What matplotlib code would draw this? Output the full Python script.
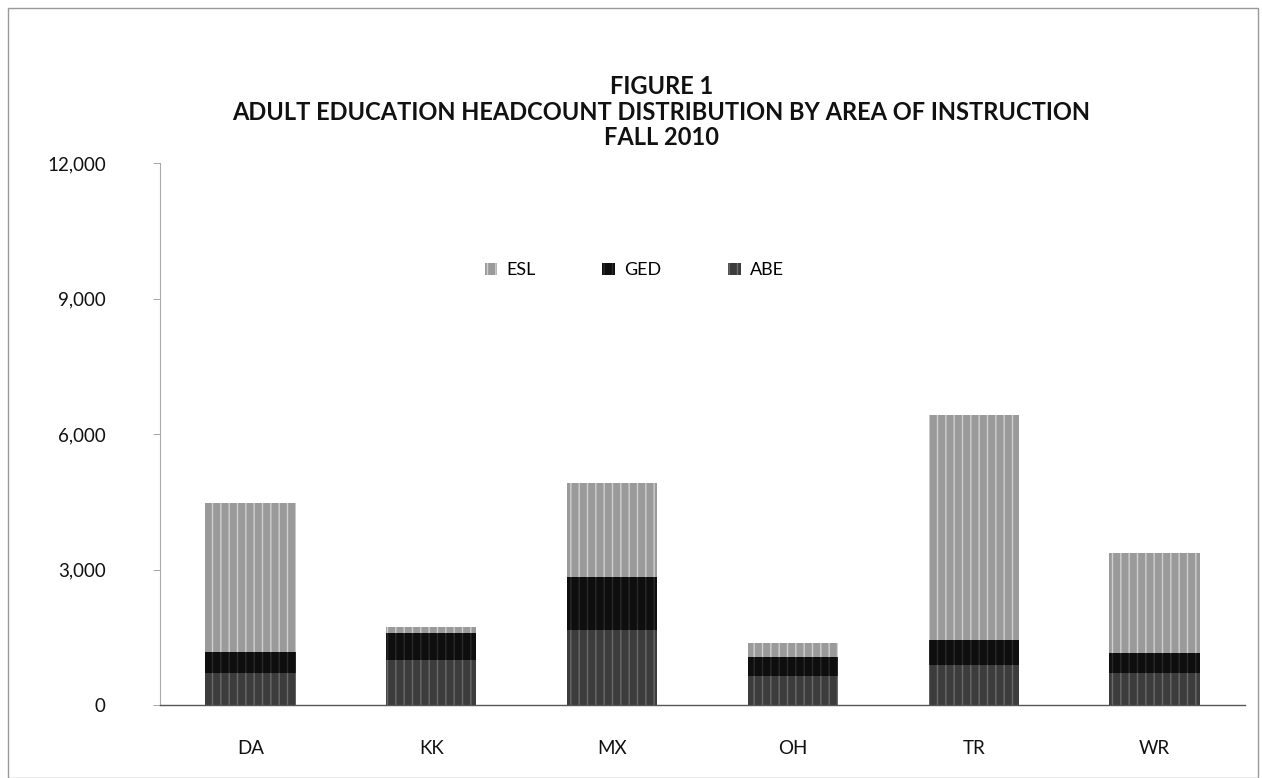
import matplotlib.pyplot as plt
from matplotlib.patches import Rectangle
from matplotlib.ticker import FuncFormatter

# Fall 2010 headcount by college
colleges = ['DA', 'KK', 'MX', 'OH', 'TR', 'WR']
abe = [700, 1000, 1650, 650, 880, 700]
ged = [470, 590, 1180, 410, 560, 450]
esl = [3300, 135, 2080, 310, 4975, 2210]

title = 'FIGURE 1\nADULT EDUCATION HEADCOUNT DISTRIBUTION BY AREA OF INSTRUCTION\nFALL 2010'
y_ticks = [0, 3000, 6000, 9000, 12000]

plt.rcParams['font.family'] = ['Lato', 'DejaVu Sans']

fig = plt.figure(figsize=(12.62, 7.78), dpi=100)
ax = fig.add_axes([160 / 1262, 73 / 778, 1085 / 1262, 542 / 778])

x = range(len(colleges))
width = 0.5
ged_bottom = abe
esl_bottom = [a + g for a, g in zip(abe, ged)]

ax.bar(x, abe, width, color='#3c3c3c', hatch='||', edgecolor='#6a6a6a',
       linewidth=0, label='ABE')
ax.bar(x, ged, width, bottom=ged_bottom, color='#0e0e0e', hatch='||',
       edgecolor='#2a2a2a', linewidth=0, label='GED')
ax.bar(x, esl, width, bottom=esl_bottom, color='#9a9a9a', hatch='||',
       edgecolor='#d0d0d0', linewidth=0, label='ESL')

ax.set_xlim(-0.5, len(colleges) - 0.5)
ax.set_ylim(0, 12000)
ax.set_yticks(y_ticks)
ax.yaxis.set_major_formatter(FuncFormatter(lambda v, p: f'{int(v):,}'))
ax.set_xticks(list(x))
ax.set_xticklabels(colleges)
ax.tick_params(axis='both', labelsize=13.5, colors='#111111')
ax.tick_params(axis='x', length=0, pad=25)
ax.tick_params(axis='y', length=5, width=0.6, color='#999999', pad=34)

for side in ['top', 'right']:
    ax.spines[side].set_visible(False)
ax.spines['left'].set_color('#aaaaaa')
ax.spines['left'].set_linewidth(0.8)
ax.spines['bottom'].set_color('#555555')
ax.spines['bottom'].set_linewidth(1.0)

handles, labels = ax.get_legend_handles_labels()
order = [2, 1, 0]
ax.legend([handles[i] for i in order], [labels[i] for i in order],
          loc='upper center', bbox_to_anchor=(0.437, 0.847), ncol=3,
          frameon=False, fontsize=13, handlelength=0.7, handleheight=0.7,
          handletextpad=0.5, columnspacing=3.7)

fig.text(0.524, 0.856, title, ha='center', va='center', fontsize=17,
         fontweight='bold', linespacing=1.15, color='#111111')

# faint border around the whole chart area, as in the scan
fig.add_artist(Rectangle((8 / 1262, 0.0), 1250 / 1262, 770 / 778,
                         transform=fig.transFigure, fill=False,
                         edgecolor='#999999', linewidth=1.0))

fig.savefig('out.png', dpi=100)
